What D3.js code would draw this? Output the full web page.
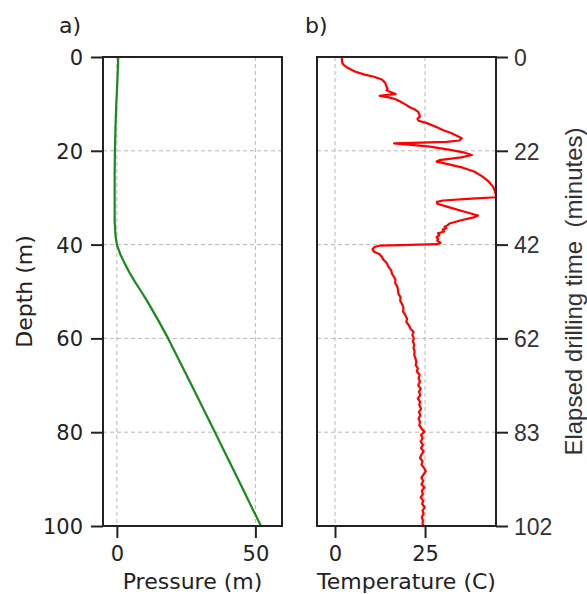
<!DOCTYPE html>
<html>
<head>
<meta charset="utf-8">
<script src="https://cdn.jsdelivr.net/npm/d3@7"></script>
<style>
  body { margin: 0; background: #fff; }
  text { font-family: "DejaVu Sans", sans-serif; fill: #222; }
  .grid line { stroke: #b8b8b8; stroke-dasharray: 4,3; stroke-width: 1; }
  .axis path, .axis line { stroke: #222; stroke-width: 2; }
  .axis text { font-size: 21px; font-family: "DejaVu Sans", sans-serif; fill: #222; }
  .raxis text { font-family: "Liberation Sans", Arial, sans-serif; fill: #333; font-size: 23px; }
</style>
</head>
<body>
<div id="chart"></div>
<script>
var w = 587, h = 594;

// pressure profile (depth m, pressure m)
var pDepth = [0, 5, 10, 15, 20, 25, 30, 35, 38, 40, 42, 44, 46, 48, 50, 52, 56, 60, 70, 80, 90, 100];
var pValue = [0.5, 0.2, -0.2, -0.5, -0.7, -0.8, -0.8, -0.8, -0.5, 0, 1.2, 2.8, 4.6, 6.6, 8.8, 10.9, 14.8, 18.5, 27, 35.4, 43.7, 52];

// temperature profile (depth m, temperature C)
var tDepth = [0, 0.6, 1.2, 1.7, 2.3, 3.1, 3.7, 4.2, 4.8, 5.3, 5.6, 6.2, 6.7, 7.1, 7.4, 7.9, 8.1, 8.3, 8.6, 9.0,
  9.5, 10.1, 10.7, 11.2, 11.7, 12.3, 12.7, 13.2, 13.6, 14.1, 14.8, 15.6, 16.2, 16.8, 17.3, 17.8, 18.1, 18.4, 18.7, 19.1,
  19.8, 20.4, 20.9, 21.4, 22.0, 22.3, 22.8, 23.6, 24.4, 25.5, 26.5, 27.7, 28.6, 29.5, 29.9, 30.2, 30.6, 30.9, 31.3, 32.0,
  33.0, 33.8, 34.2, 34.8, 35.5, 35.9, 36.2, 36.5, 36.8, 37.2, 37.6, 38.0, 38.4, 38.8, 39.2, 39.6, 39.9, 40.1, 40.2, 40.5,
  41.0, 41.5, 42.0, 42.6, 43.2, 44.0, 44.8, 45.5, 46.2, 46.8, 47.5, 48.2, 49.0, 49.7, 50.5, 51.2, 52.0, 52.8, 53.5, 54.3,
  55.0, 55.8, 56.5, 57.2, 58.0, 58.6, 59.3, 60.0, 60.6, 61.3, 62.0, 62.8, 63.5, 64.2, 65.0, 65.7, 66.4, 67.0, 67.8, 68.5,
  69.2, 70.0, 70.7, 71.4, 72.1, 72.8, 73.5, 74.2, 75.0, 75.7, 76.4, 77.1, 77.8, 78.5, 79.2, 79.9, 80.6, 81.3, 82.0, 82.7,
  83.4, 84.1, 84.8, 85.5, 86.2, 86.9, 87.6, 88.3, 89.0, 89.7, 90.4, 91.1, 91.8, 92.5, 93.2, 93.9, 94.6, 95.3, 96.0, 96.7,
  97.4, 98.1, 98.8, 99.5, 100];
var tValue = [1.9, 1.9, 2.0, 2.4, 3.5, 5.5, 8.0, 10.8, 13.0, 13.7, 14.0, 14.2, 14.6, 14.3, 15.2, 16.8, 14.0, 12.4, 15.0, 16.8,
  18.1, 19.5, 20.8, 22.2, 23.1, 23.4, 23.6, 22.9, 23.2, 25.5, 27.8, 30.1, 32.2, 33.8, 35.2, 34.5, 31.0, 16.4, 20.5, 26.4,
  32.0, 36.0, 38.0, 35.0, 29.0, 28.2, 31.0, 35.5, 38.6, 41.0, 42.6, 43.9, 44.4, 44.7, 44.7, 38.0, 30.0, 28.3, 28.4, 31.5,
  36.0, 39.7, 38.5, 35.0, 31.8, 31.2, 30.4, 30.9, 29.9, 30.3, 28.6, 29.0, 28.2, 28.6, 28.4, 29.3, 28.5, 18.0, 12.5, 11.0,
  10.4, 10.8, 12.3, 13.0, 13.4, 14.4, 14.9, 15.6, 15.8, 16.3, 16.8, 16.7, 17.3, 17.5, 17.6, 18.2, 18.1, 18.7, 19.0, 18.9,
  19.5, 20.0, 19.8, 20.5, 21.0, 21.8, 21.5, 21.9, 21.6, 22.0, 21.8, 22.1, 22.0, 22.3, 22.6, 22.4, 23.0, 22.7, 23.5, 23.2,
  23.6, 23.1, 23.8, 23.3, 23.7, 23.0, 23.6, 23.4, 23.9, 23.3, 23.7, 23.2, 23.6, 23.4, 24.0, 24.8, 23.9, 24.3, 23.8, 24.4,
  23.9, 24.6, 24.0, 23.6, 24.3, 24.0, 24.7, 25.2, 24.6, 24.0, 24.5, 24.0, 24.8, 24.1, 24.4, 23.8, 24.5, 24.2, 24.9, 24.3,
  24.6, 24.1, 24.4, 24.3, 24.6];

var depthTicks = [0, 20, 40, 60, 80, 100];
var timeTickLabels = ["0", "22", "42", "62", "83", "102"];
var pressureTicks = [0, 50];
var tempTicks = [0, 25];

var plotTop = 57, plotBottom = 526;
var y = d3.scaleLinear().domain([0, 100]).range([plotTop, plotBottom]);
var xP = d3.scaleLinear().domain([-5, 59.6]).range([103, 282]);
var xT = d3.scaleLinear().domain([-5, 44.7]).range([317, 496]);

var svg = d3.select("#chart").append("svg").attr("width", w).attr("height", h);

function panel(x, xTicks, depths, values, color, label, title, tx) {
  var x0 = x.range()[0], x1 = x.range()[1];
  var g = svg.append("g");

  // grid
  var grid = g.append("g").attr("class", "grid");
  grid.selectAll("line.v").data(xTicks).enter().append("line")
    .attr("x1", x).attr("x2", x).attr("y1", plotTop).attr("y2", plotBottom);
  grid.selectAll("line.h").data(depthTicks.slice(1, -1)).enter().append("line")
    .attr("x1", x0).attr("x2", x1).attr("y1", y).attr("y2", y);

  // curve
  var line = d3.line().x(function(d) { return x(d[1]); }).y(function(d) { return y(d[0]); });
  g.append("path").datum(d3.zip(depths, values))
    .attr("d", line).attr("fill", "none").attr("stroke", color)
    .attr("stroke-width", 2.2).attr("stroke-linejoin", "round");

  // frame
  g.append("rect").attr("x", x0).attr("y", plotTop).attr("width", x1 - x0).attr("height", plotBottom - plotTop)
    .attr("fill", "none").attr("stroke", "#222").attr("stroke-width", 2);

  var xAxis = g.append("g").attr("class", "axis").attr("transform", "translate(0," + plotBottom + ")")
    .call(d3.axisBottom(x).tickValues(xTicks).tickSize(12).tickPadding(8).tickFormat(d3.format("d")));
  xAxis.select(".domain").remove();

  g.append("text").attr("x", (x0 + x1) / 2).attr("y", 589).attr("text-anchor", "middle")
    .attr("font-size", 22).text(label);
  g.append("text").attr("x", tx).attr("y", 33).attr("font-size", 22).text(title);
  return g;
}

panel(xP, pressureTicks, pDepth, pValue, "#1a8a1a", "Pressure (m)", "a)", 59);
panel(xT, tempTicks, tDepth, tValue, "#ff0000", "Temperature (C)", "b)", 305);

var left = svg.append("g").attr("class", "axis").attr("transform", "translate(103,0)")
  .call(d3.axisLeft(y).tickValues(depthTicks).tickSize(12).tickPadding(8));
left.select(".domain").remove();
left.selectAll("text").attr("dy", "0.36em");

var right = svg.append("g").attr("class", "axis raxis").attr("transform", "translate(496,0)")
  .call(d3.axisRight(y).tickValues(depthTicks).tickSize(12).tickPadding(6)
    .tickFormat(function(d, i) { return timeTickLabels[i]; }));
right.select(".domain").remove();
right.selectAll("text").attr("dy", "0.36em");

svg.append("text").attr("transform", "translate(32," + (plotTop + plotBottom) / 2 + ") rotate(-90)")
  .attr("text-anchor", "middle").attr("font-size", 22).text("Depth (m)");

svg.append("text").attr("transform", "translate(582," + (plotTop + plotBottom) / 2 + ") rotate(-90)")
  .attr("text-anchor", "middle").style("font-family", "'Liberation Sans', Arial, sans-serif")
  .style("fill", "#333").attr("font-size", 24).attr("xml:space", "preserve")
  .text("Elapsed drilling time  (minutes)");
</script>
</body>
</html>
